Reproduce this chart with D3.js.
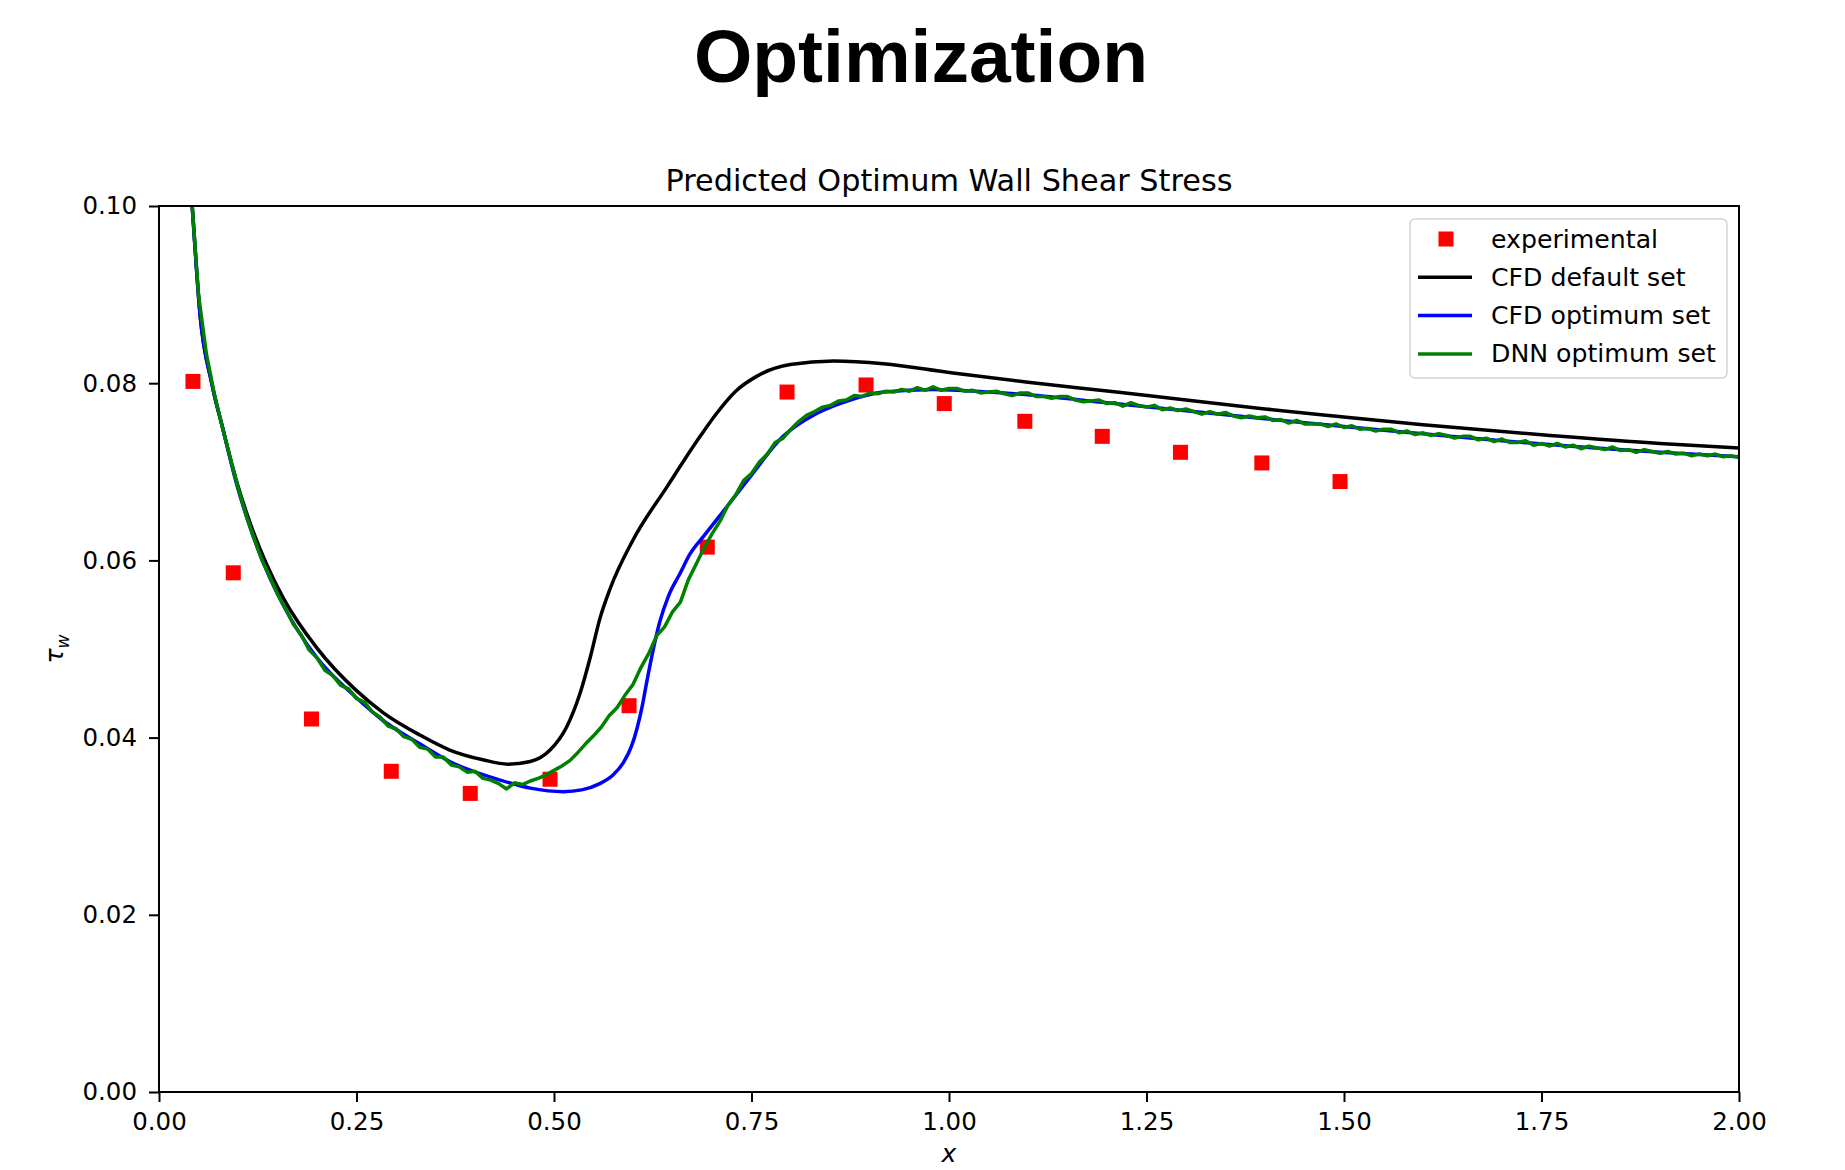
<!DOCTYPE html>
<html>
<head>
<meta charset="utf-8">
<script src="https://cdn.jsdelivr.net/npm/d3@7"></script>
<style>
  body { margin: 0; background: #fff; }
  text { font-family: "DejaVu Sans", sans-serif; }
</style>
</head>
<body>
<div id="chart"></div>
<script>
// ---- data ----
var xTicks = [0, 0.25, 0.5, 0.75, 1.0, 1.25, 1.5, 1.75, 2.0];
var yTicks = [0, 0.02, 0.04, 0.06, 0.08, 0.10];

var seriesNames = ["experimental", "CFD default set", "CFD optimum set", "DNN optimum set"];

var expX = [0.043, 0.094, 0.193, 0.294, 0.394, 0.495, 0.595, 0.694, 0.795, 0.895, 0.994, 1.096, 1.194, 1.293, 1.396, 1.495];
var expY = [0.0802, 0.0586, 0.0421, 0.0362, 0.0337, 0.0353, 0.0436, 0.0615, 0.0790, 0.0798, 0.0777, 0.0757, 0.0740, 0.0722, 0.0710, 0.0689];

var cfdDefault = [
  [0.038, 0.1050], [0.042, 0.1000], [0.052, 0.0877], [0.067, 0.0799], [0.081, 0.0748],
  [0.098, 0.0690], [0.115, 0.0643], [0.136, 0.0596], [0.157, 0.0558], [0.20, 0.0501],
  [0.25, 0.0453], [0.284, 0.0428], [0.33, 0.0403], [0.368, 0.0386], [0.41, 0.0375],
  [0.442, 0.0370], [0.47, 0.0373], [0.495, 0.0386], [0.516, 0.0412], [0.533, 0.0450],
  [0.546, 0.0491], [0.558, 0.0534], [0.571, 0.0568], [0.60, 0.0623], [0.643, 0.0683],
  [0.685, 0.0740], [0.705, 0.0765], [0.73, 0.0791], [0.757, 0.0808], [0.799, 0.0821],
  [0.854, 0.0825], [0.917, 0.0822], [1.0, 0.0812], [1.1, 0.0801], [1.212, 0.0790],
  [1.3, 0.0781], [1.4, 0.0771], [1.487, 0.0763], [1.6, 0.0753], [1.761, 0.0741],
  [1.9, 0.0732], [2.0, 0.0727]
];

var cfdOptimum = [
  [0.038, 0.1050], [0.042, 0.1000], [0.052, 0.0877], [0.067, 0.0799], [0.081, 0.0748],
  [0.098, 0.0687], [0.115, 0.0638], [0.136, 0.0589], [0.157, 0.0550], [0.20, 0.0490],
  [0.25, 0.0445], [0.284, 0.0419], [0.33, 0.0393], [0.368, 0.0373], [0.432, 0.0352],
  [0.47, 0.0343], [0.512, 0.0339], [0.535, 0.0341], [0.558, 0.0348], [0.575, 0.0358],
  [0.588, 0.0372], [0.598, 0.0390], [0.605, 0.0410], [0.612, 0.0437], [0.617, 0.0461],
  [0.626, 0.0501], [0.634, 0.0531], [0.645, 0.0560], [0.66, 0.0586], [0.672, 0.0607],
  [0.69, 0.0628], [0.714, 0.0655], [0.748, 0.0694], [0.79, 0.0740], [0.833, 0.0766],
  [0.875, 0.0781], [0.917, 0.0790], [0.98, 0.0793], [1.05, 0.0790], [1.1, 0.0787],
  [1.2, 0.0778], [1.3, 0.0769], [1.4, 0.0760], [1.5, 0.0751], [1.6, 0.0743],
  [1.7, 0.0735], [1.8, 0.0728], [1.9, 0.0722], [2.0, 0.0717]
];

var dnnOptimum = [
  [0.038, 0.1050], [0.042, 0.1000], [0.05, 0.0900], [0.06, 0.0833], [0.07, 0.0788],
  [0.08, 0.0751], [0.09, 0.0716], [0.10, 0.0682], [0.11, 0.0652], [0.12, 0.0626],
  [0.13, 0.0601], [0.14, 0.0582], [0.15, 0.0562], [0.16, 0.0546], [0.17, 0.0528],
  [0.18, 0.0516], [0.19, 0.0499], [0.20, 0.0490], [0.21, 0.0476], [0.22, 0.0470],
  [0.23, 0.0459], [0.24, 0.0455], [0.25, 0.0444], [0.26, 0.0440], [0.27, 0.0429],
  [0.28, 0.0423], [0.29, 0.0413], [0.30, 0.0410], [0.31, 0.0401], [0.32, 0.0398],
  [0.33, 0.0389], [0.34, 0.0387], [0.35, 0.0378], [0.36, 0.0378], [0.37, 0.0369],
  [0.38, 0.0367], [0.39, 0.0361], [0.40, 0.0362], [0.41, 0.0354], [0.42, 0.0352],
  [0.43, 0.0348], [0.44, 0.0342], [0.45, 0.0349], [0.46, 0.0347], [0.47, 0.0351],
  [0.48, 0.0354], [0.49, 0.0358], [0.50, 0.0363], [0.51, 0.0368], [0.52, 0.0374],
  [0.53, 0.0383], [0.54, 0.0393], [0.55, 0.0402], [0.56, 0.0412], [0.57, 0.0425],
  [0.58, 0.0434], [0.59, 0.0448], [0.60, 0.0460], [0.61, 0.0479], [0.62, 0.0495],
  [0.63, 0.0515], [0.64, 0.0525], [0.65, 0.0542], [0.66, 0.0553], [0.67, 0.0578],
  [0.68, 0.0596], [0.69, 0.0614], [0.70, 0.0630], [0.71, 0.0644], [0.72, 0.0662],
  [0.73, 0.0674], [0.74, 0.0690], [0.75, 0.0698], [0.76, 0.0711], [0.77, 0.0720],
  [0.78, 0.0733], [0.79, 0.0738], [0.80, 0.0748], [0.81, 0.0757], [0.82, 0.0764],
  [0.83, 0.0768], [0.84, 0.0773], [0.85, 0.0775], [0.86, 0.0780], [0.87, 0.0781],
  [0.88, 0.0786], [0.89, 0.0785], [0.90, 0.0789], [0.91, 0.0788], [0.92, 0.0791],
  [0.93, 0.0790], [0.94, 0.0793], [0.95, 0.0791], [0.96, 0.0795], [0.97, 0.0792],
  [0.98, 0.0796], [0.99, 0.0792], [1.00, 0.0794], [1.01, 0.0794], [1.02, 0.0791],
  [1.03, 0.0792], [1.04, 0.0789], [1.05, 0.0790], [1.06, 0.0791], [1.07, 0.0788],
  [1.08, 0.0786], [1.09, 0.0789], [1.10, 0.0789], [1.11, 0.0785], [1.12, 0.0785],
  [1.13, 0.0783], [1.14, 0.0785], [1.15, 0.0785], [1.16, 0.0781], [1.17, 0.0779],
  [1.18, 0.0780], [1.19, 0.0781], [1.20, 0.0777], [1.21, 0.0778], [1.22, 0.0774],
  [1.23, 0.0778], [1.24, 0.0775], [1.25, 0.0773], [1.26, 0.0775], [1.27, 0.0770],
  [1.28, 0.0772], [1.29, 0.0769], [1.30, 0.0771], [1.31, 0.0768], [1.32, 0.0765],
  [1.33, 0.0768], [1.34, 0.0765], [1.35, 0.0767], [1.36, 0.0763], [1.37, 0.0761],
  [1.38, 0.0763], [1.39, 0.0761], [1.40, 0.0762], [1.41, 0.0758], [1.42, 0.0759],
  [1.43, 0.0755], [1.44, 0.0758], [1.45, 0.0754], [1.46, 0.0754], [1.47, 0.0754],
  [1.48, 0.0751], [1.49, 0.0754], [1.50, 0.0750], [1.51, 0.0752], [1.52, 0.0748],
  [1.53, 0.0749], [1.54, 0.0746], [1.55, 0.0748], [1.56, 0.0748], [1.57, 0.0744],
  [1.58, 0.0746], [1.59, 0.0742], [1.60, 0.0744], [1.61, 0.0741], [1.62, 0.0743],
  [1.63, 0.0741], [1.64, 0.0738], [1.65, 0.0740], [1.66, 0.0740], [1.67, 0.0736],
  [1.68, 0.0738], [1.69, 0.0734], [1.70, 0.0737], [1.71, 0.0733], [1.72, 0.0733],
  [1.73, 0.0735], [1.74, 0.0730], [1.75, 0.0732], [1.76, 0.0729], [1.77, 0.0732],
  [1.78, 0.0728], [1.79, 0.0730], [1.80, 0.0726], [1.81, 0.0729], [1.82, 0.0727],
  [1.83, 0.0725], [1.84, 0.0728], [1.85, 0.0724], [1.86, 0.0725], [1.87, 0.0722],
  [1.88, 0.0725], [1.89, 0.0723], [1.90, 0.0721], [1.91, 0.0723], [1.92, 0.0720],
  [1.93, 0.0721], [1.94, 0.0718], [1.95, 0.0720], [1.96, 0.0718], [1.97, 0.0720],
  [1.98, 0.0717], [1.99, 0.0718], [2.00, 0.0716]
];

// ---- layout ----
var W = 1845, H = 1170;
var margin = {left: 159, right: 106, top: 206, bottom: 78};
var width = W - margin.left - margin.right,
    height = H - margin.top - margin.bottom;

var svg = d3.select("#chart").append("svg")
    .attr("width", W)
    .attr("height", H)
    .style("background", "#fff");

// big slide title
svg.append("text")
    .attr("x", 921)
    .attr("y", 82)
    .attr("text-anchor", "middle")
    .style("font-family", "'Liberation Sans', Arial, sans-serif")
    .style("font-weight", "bold")
    .style("font-size", "75px")
    .text("Optimization");

var canvas = svg.append("g")
    .attr("transform", "translate(" + margin.left + "," + margin.top + ")");

var x = d3.scaleLinear().domain([0, 2]).range([0, width]);
var y = d3.scaleLinear().domain([0, 0.1]).range([height, 0]);

canvas.append("defs").append("clipPath")
    .attr("id", "plot-clip")
  .append("rect")
    .attr("width", width)
    .attr("height", height);

// axes
var xAxisCall = d3.axisBottom(x)
    .tickValues(xTicks)
    .tickFormat(d3.format(".2f"))
    .tickSize(10)
    .tickSizeOuter(0)
    .tickPadding(11);

var yAxisCall = d3.axisLeft(y)
    .tickValues(yTicks)
    .tickFormat(d3.format(".2f"))
    .tickSize(10)
    .tickSizeOuter(0)
    .tickPadding(12);

var gx = canvas.append("g")
    .attr("transform", "translate(0," + height + ")")
    .call(xAxisCall);
var gy = canvas.append("g").call(yAxisCall);

[gx, gy].forEach(function(g) {
  g.select(".domain").remove();
  g.selectAll(".tick line").attr("stroke", "#000").attr("stroke-width", 2);
  g.selectAll(".tick text")
    .attr("fill", "#000")
    .style("font-family", "'DejaVu Sans', sans-serif")
    .style("font-size", "24.5px");
});

// subplot title
canvas.append("text")
    .attr("x", width / 2)
    .attr("y", -15)
    .attr("text-anchor", "middle")
    .style("font-size", "30.3px")
    .text("Predicted Optimum Wall Shear Stress");

// axis labels
canvas.append("text")
    .attr("x", width / 2)
    .attr("y", height + 70)
    .attr("text-anchor", "middle")
    .style("font-size", "25px")
    .style("font-style", "italic")
    .text("x");

var yLabel = canvas.append("text")
    .attr("transform", "translate(" + (-96) + "," + (height / 2) + ") rotate(-90)")
    .attr("text-anchor", "middle")
    .style("font-size", "25px")
    .style("font-style", "italic");
yLabel.append("tspan").text("\u03c4");
yLabel.append("tspan").attr("dy", 6).style("font-size", "17px").text("w");

// marks
var plot = canvas.append("g").attr("clip-path", "url(#plot-clip)");

var expData = expX.map(function(d, i) { return [d, expY[i]]; });
var sq = 15;

plot.selectAll("rect.exp")
    .data(expData)
  .enter().append("rect")
    .attr("class", "exp")
    .attr("x", function(d) { return x(d[0]) - sq / 2; })
    .attr("y", function(d) { return y(d[1]) - sq / 2; })
    .attr("width", sq)
    .attr("height", sq)
    .attr("fill", "#ff0000");

var smooth = d3.line()
    .x(function(d) { return x(d[0]); })
    .y(function(d) { return y(d[1]); })
    .curve(d3.curveMonotoneX);

var jagged = d3.line()
    .x(function(d) { return x(d[0]); })
    .y(function(d) { return y(d[1]); });

plot.append("path").datum(cfdDefault)
    .attr("d", smooth).attr("fill", "none")
    .attr("stroke", "#000000").attr("stroke-width", 3.5);

plot.append("path").datum(cfdOptimum)
    .attr("d", smooth).attr("fill", "none")
    .attr("stroke", "#0000ff").attr("stroke-width", 3.5);

plot.append("path").datum(dnnOptimum)
    .attr("d", jagged).attr("fill", "none")
    .attr("stroke", "#008000").attr("stroke-width", 3.5)
    .attr("stroke-linejoin", "round");

// frame
canvas.append("rect")
    .attr("width", width)
    .attr("height", height)
    .attr("fill", "none")
    .attr("stroke", "#000")
    .attr("stroke-width", 2);

// legend
var legend = canvas.append("g")
    .attr("transform", "translate(" + (width - 329) + ",13)");

legend.append("rect")
    .attr("width", 317)
    .attr("height", 159)
    .attr("rx", 5)
    .attr("fill", "#fff")
    .attr("fill-opacity", 0.8)
    .attr("stroke", "#d4d4d4")
    .attr("stroke-width", 1.5);

var legendColors = ["#ff0000", "#000000", "#0000ff", "#008000"];

seriesNames.forEach(function(name, i) {
  var row = legend.append("g").attr("transform", "translate(0," + (20 + i * 38.3) + ")");
  if (i == 0) {
    row.append("rect")
      .attr("x", 36 - sq / 2).attr("y", -sq / 2)
      .attr("width", sq).attr("height", sq)
      .attr("fill", legendColors[i]);
  } else {
    row.append("line")
      .attr("x1", 8).attr("x2", 62)
      .attr("stroke", legendColors[i])
      .attr("stroke-width", 3.5);
  }
  row.append("text")
    .attr("x", 81)
    .attr("y", 8.5)
    .style("font-size", "25.2px")
    .attr("fill", "#000")
    .text(name);
});
</script>
</body>
</html>
